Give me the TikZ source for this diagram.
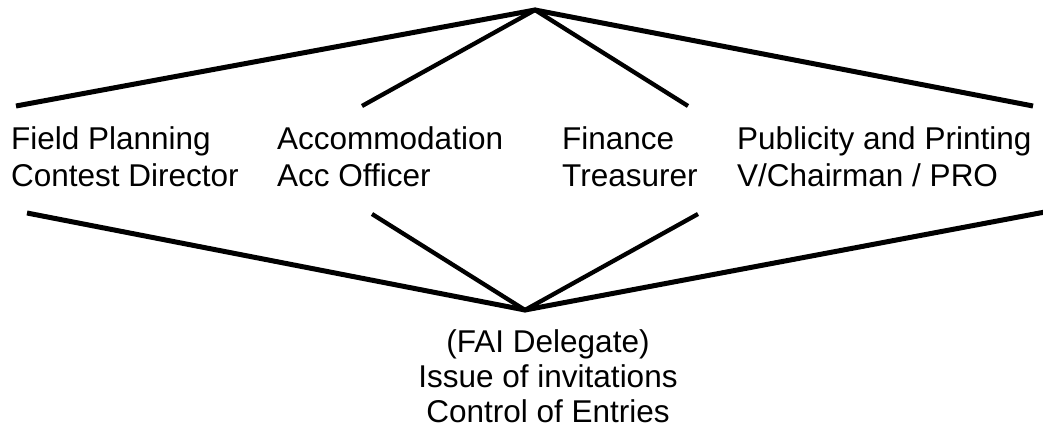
\documentclass[tikz,border=0pt]{standalone}
\usepackage{fontspec}
\setmainfont{Liberation Sans}
\usetikzlibrary{calc}

\begin{document}
\begin{tikzpicture}[x=1pt,y=-1pt,
                    duty/.style={inner sep=0pt,align=left,anchor=north west,font=\fontsize{31.5}{37}\selectfont},
                    outer/.style={line width=5pt},
                    inner/.style={line width=4.3pt}]
                    \useasboundingbox (0,0) rectangle (1043,427);
                    \coordinate (top) at (535,10);
                    \coordinate (bottom) at (525,310);
                    \draw (11,126) node[duty,name=field] {Field Planning\\Contest Director};
                    \draw (277,126) node[duty,name=accom] {Accommodation\\Acc Officer};
                    \draw (562,126) node[duty,name=finance] {Finance\\Treasurer};
                    \draw (737,126) node[duty,name=publicity] {Publicity and Printing\\V/Chairman / PRO};
                    \draw (548,329) node[inner sep=0pt,align=center,anchor=north,font=\fontsize{31.5}{35}\selectfont,name=fai] {(FAI Delegate)\\Issue of invitations\\Control of Entries};
                    % ends of the lines above and below the duties
                    \coordinate (a) at (16,106);
                    \coordinate (b) at (362,106);
                    \coordinate (c) at (688,106);
                    \coordinate (d) at (1033,106);
                    \coordinate (e) at (27,213);
                    \coordinate (f) at (372,214);
                    \coordinate (g) at (698,214);
                    \coordinate (h) at (1045,212);
                    \draw[outer] (a) -- (top) -- (d);
                    \draw[inner] (b) -- (top) -- (c);
                    \draw[outer] (e) -- (bottom) -- (h);
                    \draw[inner] (f) -- (bottom) -- (g);
                \end{tikzpicture}
\end{document}
